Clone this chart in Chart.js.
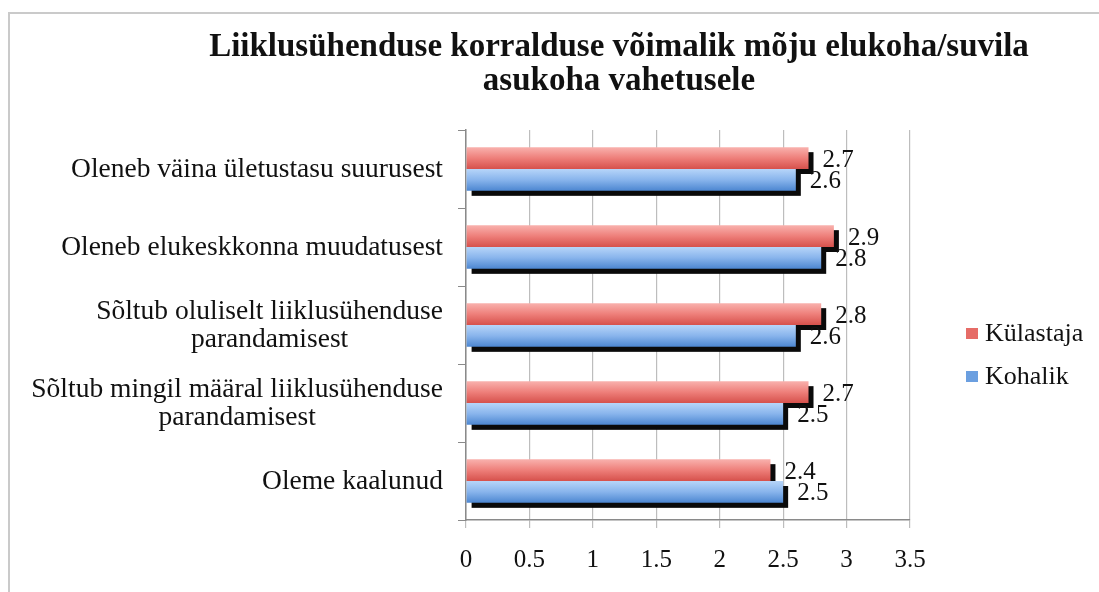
<!DOCTYPE html>
<html>
<head>
<meta charset="utf-8">
<script src="https://cdn.jsdelivr.net/npm/chart.js@4/dist/chart.umd.min.js"></script>
<style>
  html, body { margin: 0; padding: 0; background: #fff; }
  canvas { display: block; }
</style>
</head>
<body>
<canvas id="chart" width="1099" height="592"></canvas>
<script>

/* ------------------------------------------------ */

const titleLines = ['Liiklusühenduse korralduse võimalik mõju elukoha/suvila', 'asukoha vahetusele'];

const categories = [
  'Oleneb väina ületustasu suurusest',
  'Oleneb elukeskkonna muudatusest',
  ['Sõltub oluliselt liiklusühenduse', 'parandamisest'],
  ['Sõltub mingil määral liiklusühenduse', 'parandamisest'],
  'Oleme kaalunud',
];

const seriesNames = ['Külastaja', 'Kohalik'];
const kulastaja = [2.7, 2.9, 2.8, 2.7, 2.4];
const kohalik = [2.6, 2.8, 2.6, 2.5, 2.5];

const xMin = 0;
const xMax = 3.5;
const xStep = 0.5;
const xTickLabels = ['0', '0.5', '1', '1.5', '2', '2.5', '3', '3.5'];

/* ------------------------------------------------ */

const FONT = '"Liberation Serif", "Times New Roman", serif';
const CAT_PCT = 0.56;
const AXIS_GRAY = '#8a8a8a';
const GRID_GRAY = '#bdbdbd';

const palette = [
  { top: '#f9b2ae', mid: '#ee7f7a', bottom: '#d6514c', legend: '#e66c67' },
  { top: '#b7d5f9', mid: '#88b4ec', bottom: '#4c86d1', legend: '#6b9fe0' },
];

function barFill(c) {
  let colors = palette[c.datasetIndex];
  let yScale = c.chart.scales.y;
  if (c.dataIndex === undefined || !yScale) return colors.mid;
  let nSets = c.chart.data.datasets.length;
  let catH = (yScale.bottom - yScale.top) / categories.length;
  let h = catH * CAT_PCT / nSets;
  let center = yScale.getPixelForValue(c.dataIndex) + (c.datasetIndex - (nSets - 1) / 2) * h;
  if (!isFinite(center) || !isFinite(h) || h <= 0) return colors.mid;
  let g = c.chart.ctx.createLinearGradient(0, center - h / 2, 0, center + h / 2);
  g.addColorStop(0, colors.top);
  g.addColorStop(0.5, colors.mid);
  g.addColorStop(1, colors.bottom);
  return g;
}

/* ------------------------------------------------ */

const framePlugin = {
  id: 'frame',
  beforeDraw(chart) {
    let ctx = chart.ctx;
    ctx.save();
    ctx.strokeStyle = '#cacaca';
    ctx.lineWidth = 2;
    ctx.beginPath();
    ctx.moveTo(9, chart.height);
    ctx.lineTo(9, 13);
    ctx.lineTo(chart.width, 13);
    ctx.stroke();
    ctx.restore();
  },
};

// black drop shadow under every bar, drawn before the bars themselves
const shadowPlugin = {
  id: 'barShadow',
  beforeDatasetsDraw(chart) {
    let ctx = chart.ctx;
    ctx.save();
    ctx.fillStyle = '#0a0a0a';
    chart.getSortedVisibleDatasetMetas().forEach((meta) => {
      meta.data.forEach((el) => {
        let p = el.getProps(['x', 'y', 'base', 'height'], true);
        ctx.fillRect(p.base + 5, p.y - p.height / 2 + 5, p.x - p.base, p.height);
      });
    });
    ctx.restore();
  },
};

const textPlugin = {
  id: 'texts',
  afterDraw(chart) {
    let ctx = chart.ctx;
    let area = chart.chartArea;
    let yScale = chart.scales.y;
    ctx.save();
    ctx.fillStyle = '#111';

    // title
    ctx.font = 'bold 33px ' + FONT;
    ctx.textAlign = 'center';
    ctx.textBaseline = 'alphabetic';
    titleLines.forEach((line, i) => {
      ctx.fillText(line, 619, 56 + i * 34);
    });

    // category labels, lines centred on each other, block right aligned
    ctx.font = '27.5px ' + FONT;
    ctx.textBaseline = 'middle';
    chart.data.labels.forEach((label, i) => {
      let lines = Array.isArray(label) ? label : [label];
      let maxW = Math.max(...lines.map((l) => ctx.measureText(l).width));
      let cx = area.left - 23 - maxW / 2;
      let cy = yScale.getPixelForValue(i);
      lines.forEach((l, j) => {
        ctx.fillText(l, cx, cy + (j - (lines.length - 1) / 2) * 28 + 1);
      });
    });

    // value labels
    ctx.font = '25px ' + FONT;
    ctx.textAlign = 'left';
    chart.getSortedVisibleDatasetMetas().forEach((meta) => {
      let data = chart.data.datasets[meta.index].data;
      meta.data.forEach((el, i) => {
        ctx.fillText(data[i].toFixed(1), el.x + 14, el.y + 2);
      });
    });

    // legend
    ctx.font = '26px ' + FONT;
    chart.data.datasets.forEach((ds, i) => {
      let y = 334 + i * 43;
      ctx.fillStyle = palette[i].legend;
      ctx.fillRect(966, y - 6, 12, 11);
      ctx.fillStyle = '#111';
      ctx.fillText(ds.label, 985, y);
    });

    ctx.restore();
  },
};

/* ------------------------------------------------ */

function generateChart() {
  let ctx = document.getElementById('chart').getContext('2d');
  return new Chart(ctx, {
    type: 'bar',
    data: {
      labels: categories,
      datasets: [
        { label: seriesNames[0], data: kulastaja },
        { label: seriesNames[1], data: kohalik },
      ].map((ds) => Object.assign(ds, {
        backgroundColor: barFill,
        borderWidth: 0,
        categoryPercentage: CAT_PCT,
        barPercentage: 1,
      })),
    },
    options: {
      indexAxis: 'y',
      responsive: false,
      animation: false,
      layout: { padding: { left: 458, top: 130, right: 189, bottom: 0 } },
      plugins: {
        legend: { display: false },
        title: { display: false },
        tooltip: { enabled: false },
      },
      scales: {
        x: {
          min: xMin,
          max: xMax,
          ticks: {
            stepSize: xStep,
            padding: 17,
            color: '#111',
            font: { family: FONT, size: 25 },
            callback: (v, i) => xTickLabels[i],
          },
          grid: { color: GRID_GRAY, tickLength: 8, lineWidth: 1.2 },
          border: { color: AXIS_GRAY, width: 1.5 },
        },
        y: {
          ticks: { display: false },
          grid: { drawOnChartArea: false, color: AXIS_GRAY, tickLength: 8 },
          border: { color: AXIS_GRAY, width: 1.5 },
        },
      },
    },
    plugins: [framePlugin, shadowPlugin, textPlugin],
  });
}

let chart = generateChart();
</script>
</body>
</html>
